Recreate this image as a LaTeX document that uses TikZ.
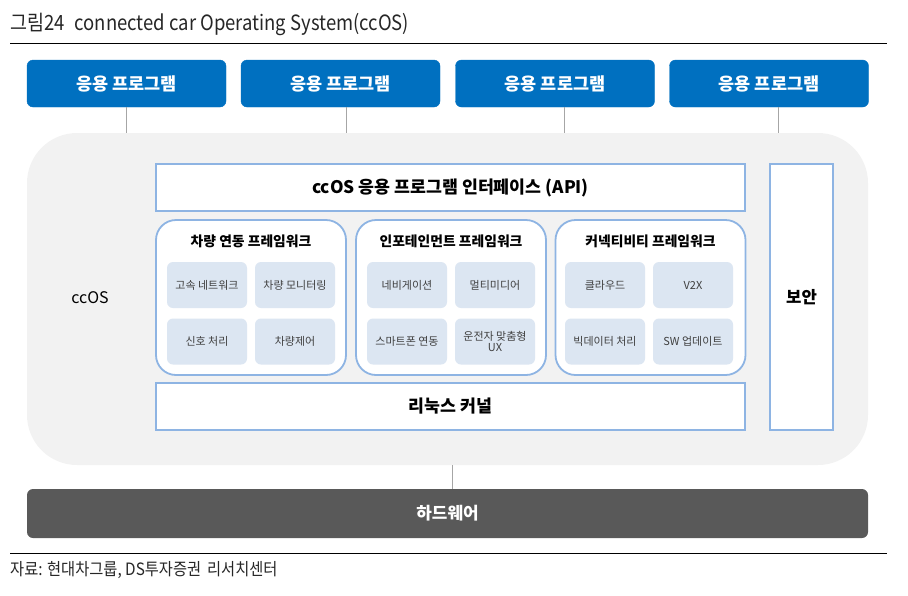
\documentclass[tikz,border=0pt]{standalone}
\usepackage{fontspec}
\setmainfont{Noto Sans CJK KR}
\begin{document}
\begin{tikzpicture}[x=1pt,y=-1pt,
  app/.style={draw=appblue,fill=appblue,rounded corners=6pt,minimum width=199pt,minimum height=47pt,inner sep=0pt,text=white,font=\fontsize{17.5}{20}\selectfont\bfseries},
  wbox/.style={draw=lineblue,line width=1.3pt,fill=white,inner sep=0pt,font=\fontsize{17.3}{20}\selectfont\bfseries},
  fw/.style={draw=lineblue,line width=1.8pt,fill=white,rounded corners=20pt,minimum width=190pt,minimum height=155pt,inner sep=0pt},
  fwtitle/.style={inner sep=0pt,font=\fontsize{13.8}{16}\selectfont\bfseries},
  sub/.style={fill=subblue,rounded corners=6pt,minimum width=80pt,minimum height=46pt,inner sep=0pt,align=center,text=textgray,font=\fontsize{11}{12.5}\selectfont},
  conn/.style={draw=conngray,line width=0.8pt},
  rule/.style={draw=black,line width=1pt}]
\definecolor{appblue}{HTML}{0070C0}
\definecolor{lineblue}{HTML}{8EB4E3}
\definecolor{subblue}{HTML}{DCE6F2}
\definecolor{bggray}{HTML}{F2F2F2}
\definecolor{hwgray}{HTML}{595959}
\definecolor{conngray}{HTML}{A6A6A6}
\definecolor{textgray}{HTML}{404040}
\useasboundingbox (0,0) rectangle (908,595);
% title
\node[anchor=west,inner sep=0pt,font=\fontsize{21}{24}\selectfont\addfontfeature{FakeStretch=0.88},text=black!85] (title) at (10,24) {그림24\kern10pt connected car Operating System(ccOS)};
\coordinate (r1a) at (10,43); \coordinate (r1b) at (887,43);
\draw[rule] (r1a) -- (r1b);
% big ccOS box
\node[draw=none,fill=bggray,rounded corners=50pt,minimum width=841pt,minimum height=332pt,inner sep=0pt] (ccos) at (447.5,299) {};
\node[font=\fontsize{16}{18}\selectfont,inner sep=0pt] (ccoslbl) at (90,298) {ccOS};
% apps
\node[app] (a1) at (126.5,83.5) {응용 프로그램};
\node[app] (a2) at (340.5,83.5) {응용 프로그램};
\node[app] (a3) at (555,83.5) {응용 프로그램};
\node[app] (a4) at (769,83.5) {응용 프로그램};
\coordinate (c1) at (126,0); \coordinate (c2) at (346,0); \coordinate (c3) at (564,0); \coordinate (c4) at (778,0);
\foreach \i in {1,2,3,4} {\draw[conn] (a\i.south -| c\i) -- (ccos.north -| c\i);}
% API
\node[wbox,minimum width=589pt,minimum height=47pt] (api) at (450.5,187.5) {ccOS 응용 프로그램 인터페이스 (API)};
% frameworks
\node[fw] (f1) at (251,297.5) {};
\node[fw] (f2) at (451,297.5) {};
\node[fw] (f3) at (650.5,297.5) {};
\node[fwtitle] (t1) at (251,241) {차량 연동 프레임워크};
\node[fwtitle] (t2) at (451,241) {인포테인먼트 프레임워크};
\node[fwtitle] (t3) at (650.5,241) {커넥티비티 프레임워크};
\node[sub] (s11) at (207,285) {고속 네트워크};
\node[sub] (s12) at (295,285) {차량 모니터링};
\node[sub] (s13) at (207,341.5) {신호 처리};
\node[sub] (s14) at (295,341.5) {차량제어};
\node[sub] (s21) at (407,285) {네비게이션};
\node[sub] (s22) at (495,285) {멀티미디어};
\node[sub] (s23) at (407,341.5) {스마트폰 연동};
\node[sub] (s24) at (495,341.5) {운전자 맞춤형\\[-1pt]UX};
\node[sub] (s31) at (605,285) {클라우드};
\node[sub] (s32) at (693,285) {V2X};
\node[sub] (s33) at (605,341.5) {빅데이터 처리};
\node[sub] (s34) at (693,341.5) {SW 업데이트};
% kernel
\node[wbox,minimum width=589pt,minimum height=47pt] (kernel) at (450.5,406.5) {리눅스 커널};
% security
\node[wbox,minimum width=63pt,minimum height=266pt,font=\fontsize{16.7}{19}\selectfont\bfseries] (sec) at (801.5,297) {보안};
% hardware
\node[fill=hwgray,rounded corners=6pt,minimum width=841pt,minimum height=49pt,inner sep=0pt,text=white,font=\fontsize{16.9}{19}\selectfont\bfseries] (hw) at (447.5,513.5) {하드웨어};
\coordinate (ch) at (452,0);
\draw[conn] (ccos.south -| ch) -- (hw.north -| ch);
% bottom rule and source
\coordinate (r2a) at (10,553); \coordinate (r2b) at (887,553);
\draw[rule] (r2a) -- (r2b);
\node[anchor=west,inner sep=0pt,font=\fontsize{17}{19}\selectfont\addfontfeature{FakeStretch=0.9},text=black!85] (src) at (10,570.5) {자료: 현대차그룹, DS투자증권\kern6pt 리서치센터};
\end{tikzpicture}
\end{document}
